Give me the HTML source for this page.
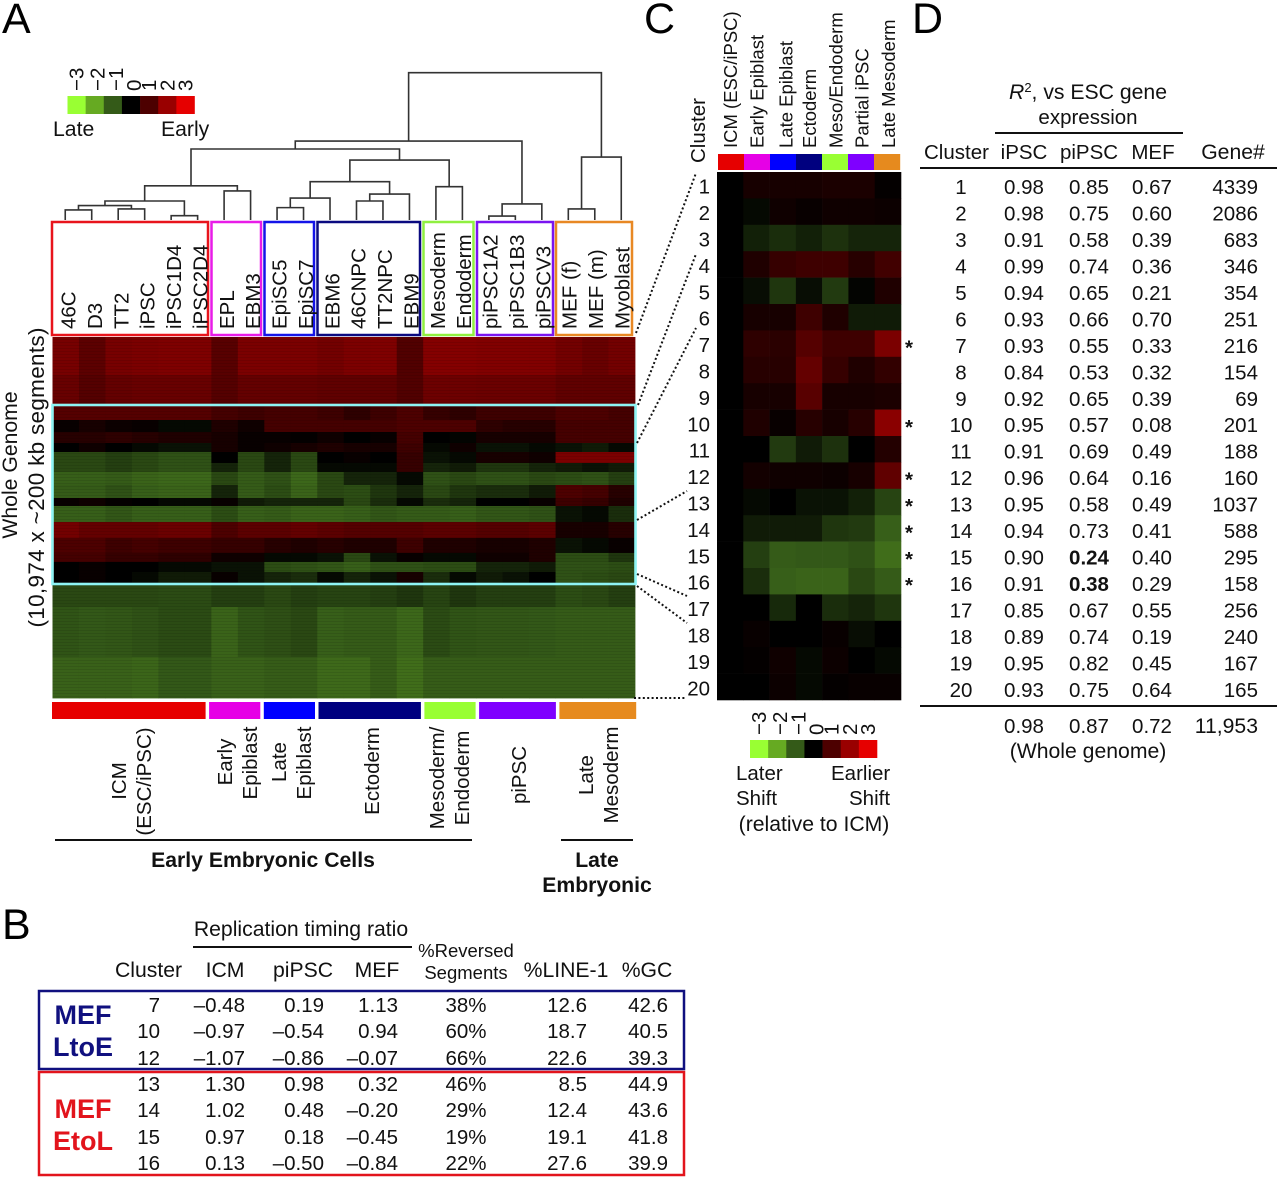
<!DOCTYPE html>
<html lang="en">
<head>
<meta charset="utf-8">
<title>Replication timing figure</title>
<style>
html,body{margin:0;padding:0;background:#fff;}
svg{display:block;}
text{font-family:"Liberation Sans",sans-serif;font-size:20.5px;fill:#111;}
.p{font-size:43px;fill:#000;}
.m{text-anchor:middle;}
.e{text-anchor:end;}
.b{font-weight:bold;}
.t{font-size:20.5px;}
.h{font-size:21.2px;}
.s{font-size:18.5px;}
.dot{stroke:#111;stroke-width:2;stroke-dasharray:2 2.4;fill:none;}
.rule{stroke:#111;stroke-width:2;}
.box{fill:none;stroke-width:2.5;}
</style>
</head>
<body>
<svg id="figure" xmlns="http://www.w3.org/2000/svg" width="1280" height="1180" viewBox="0 0 1280 1180">
<rect x="0" y="0" width="1280" height="1180" fill="#fff"/>
<defs>
<pattern id="stripes" width="4" height="3" patternUnits="userSpaceOnUse"><rect width="4" height="1" fill="#000" fill-opacity="0.09"/></pattern>
</defs>

<text class="p" x="2" y="33">A</text>
<text class="p" x="2" y="939">B</text>
<text class="p" x="644" y="33">C</text>
<text class="p" x="912" y="33">D</text>

<g id="legendA"></g>
<text class="h" x="53" y="136">Late</text>
<text class="h" x="161" y="136">Early</text>

<g id="dendrogram"></g>

<g>
<rect class="box" x="52" y="222" width="156" height="113" stroke="#e8141c"/>
<rect class="box" x="211.5" y="222" width="49.5" height="113" stroke="#e81ce8"/>
<rect class="box" x="264.5" y="222" width="49.5" height="113" stroke="#1414e8"/>
<rect class="box" x="317.5" y="222" width="102.5" height="113" stroke="#0a0a80"/>
<rect class="box" x="423.5" y="222" width="50" height="113" stroke="#90f040"/>
<rect class="box" x="477" y="222" width="76" height="113" stroke="#7a14f0"/>
<rect class="box" x="556" y="222" width="76" height="113" stroke="#e88824"/>
</g>
<g id="sampleLabelsG"></g>

<g id="heatA"></g>
<rect x="52.5" y="337" width="582.5" height="361" fill="url(#stripes)"/>
<rect x="52.5" y="405" width="583" height="179" fill="none" stroke="#8ef4f4" stroke-width="2.6"/>

<text class="m h" transform="translate(17,465) rotate(-90)">Whole Genome</text>
<text class="m" style="font-size:22.5px" textLength="300" lengthAdjust="spacing" transform="translate(44,477.5) rotate(-90)">(10,974 x ~200 kb segments)</text>

<g id="barA"></g>

<g>
<text class="m" transform="translate(126,781) rotate(-90)">ICM</text>
<text class="m" transform="translate(151,781.5) rotate(-90)">(ESC/iPSC)</text>
<text class="m" transform="translate(232,762) rotate(-90)">Early</text>
<text class="m" transform="translate(257,763) rotate(-90)">Epiblast</text>
<text class="m" transform="translate(286,762) rotate(-90)">Late</text>
<text class="m" transform="translate(311,763) rotate(-90)">Epiblast</text>
<text class="m" transform="translate(379,771) rotate(-90)">Ectoderm</text>
<text class="m" transform="translate(444,778) rotate(-90)">Mesoderm/</text>
<text class="m" transform="translate(469,778) rotate(-90)">Endoderm</text>
<text class="m" transform="translate(526,775) rotate(-90)">piPSC</text>
<text class="m" transform="translate(593,775) rotate(-90)">Late</text>
<text class="m" transform="translate(618,775) rotate(-90)">Mesoderm</text>
</g>
<line class="rule" x1="55" y1="840" x2="472" y2="840" stroke-width="3"/>
<line class="rule" x1="561" y1="840" x2="633" y2="840" stroke-width="3"/>
<text class="m b h" x="263" y="867">Early Embryonic Cells</text>
<text class="m b h" x="597" y="867">Late</text>
<text class="m b h" x="597" y="892">Embryonic</text>

<g>
<line class="dot" x1="636" y1="333" x2="696" y2="173"/>
<line class="dot" x1="638" y1="405" x2="696" y2="254"/>
<line class="dot" x1="637" y1="443" x2="696" y2="328"/>
<line class="dot" x1="637" y1="520" x2="687" y2="491"/>
<line class="dot" x1="637" y1="574" x2="687" y2="596"/>
<line class="dot" x1="637" y1="586" x2="687" y2="623"/>
<line class="dot" x1="634" y1="698" x2="685" y2="698"/>
</g>

<text transform="translate(705,163) rotate(-90)">Cluster</text>
<g id="headC"></g>
<g id="barC"></g>
<g id="heatC"></g>
<g id="rowsC"></g>
<g id="legendC"></g>
<text x="736" y="780">Later</text>
<text x="831" y="780">Earlier</text>
<text x="736" y="805">Shift</text>
<text x="849" y="805">Shift</text>
<text class="m h" x="814" y="831">(relative to ICM)</text>

<!-- Panel D table -->
<g>
<text class="m h" x="1088" y="99"><tspan font-style="italic">R</tspan><tspan font-size="13" dy="-7">2</tspan><tspan dy="7">, vs ESC gene</tspan></text>
<text class="m" x="1088" y="124">expression</text>
<line class="rule" x1="995" y1="133" x2="1183" y2="133"/>
<text x="924" y="159">Cluster</text>
<text class="m" x="1024" y="159">iPSC</text>
<text class="m" x="1089" y="159">piPSC</text>
<text class="m" x="1153" y="159">MEF</text>
<text class="m h" x="1233" y="159">Gene#</text>
<line class="rule" x1="920" y1="168" x2="1277" y2="168"/>
<g><text class="m" x="961" y="194">1</text><text class="m" x="1024" y="194">0.98</text><text class="m" x="1089" y="194">0.85</text><text class="m" x="1152" y="194">0.67</text><text class="e" x="1258" y="194">4339</text></g>
<g><text class="m" x="961" y="220.5">2</text><text class="m" x="1024" y="220.5">0.98</text><text class="m" x="1089" y="220.5">0.75</text><text class="m" x="1152" y="220.5">0.60</text><text class="e" x="1258" y="220.5">2086</text></g>
<g><text class="m" x="961" y="247">3</text><text class="m" x="1024" y="247">0.91</text><text class="m" x="1089" y="247">0.58</text><text class="m" x="1152" y="247">0.39</text><text class="e" x="1258" y="247">683</text></g>
<g><text class="m" x="961" y="273.4">4</text><text class="m" x="1024" y="273.4">0.99</text><text class="m" x="1089" y="273.4">0.74</text><text class="m" x="1152" y="273.4">0.36</text><text class="e" x="1258" y="273.4">346</text></g>
<g><text class="m" x="961" y="299.9">5</text><text class="m" x="1024" y="299.9">0.94</text><text class="m" x="1089" y="299.9">0.65</text><text class="m" x="1152" y="299.9">0.21</text><text class="e" x="1258" y="299.9">354</text></g>
<g><text class="m" x="961" y="326.4">6</text><text class="m" x="1024" y="326.4">0.93</text><text class="m" x="1089" y="326.4">0.66</text><text class="m" x="1152" y="326.4">0.70</text><text class="e" x="1258" y="326.4">251</text></g>
<g><text class="m" x="961" y="352.8">7</text><text class="m" x="1024" y="352.8">0.93</text><text class="m" x="1089" y="352.8">0.55</text><text class="m" x="1152" y="352.8">0.33</text><text class="e" x="1258" y="352.8">216</text></g>
<g><text class="m" x="961" y="379.3">8</text><text class="m" x="1024" y="379.3">0.84</text><text class="m" x="1089" y="379.3">0.53</text><text class="m" x="1152" y="379.3">0.32</text><text class="e" x="1258" y="379.3">154</text></g>
<g><text class="m" x="961" y="405.8">9</text><text class="m" x="1024" y="405.8">0.92</text><text class="m" x="1089" y="405.8">0.65</text><text class="m" x="1152" y="405.8">0.39</text><text class="e" x="1258" y="405.8">69</text></g>
<g><text class="m" x="961" y="432.2">10</text><text class="m" x="1024" y="432.2">0.95</text><text class="m" x="1089" y="432.2">0.57</text><text class="m" x="1152" y="432.2">0.08</text><text class="e" x="1258" y="432.2">201</text></g>
<g><text class="m" x="961" y="458.7">11</text><text class="m" x="1024" y="458.7">0.91</text><text class="m" x="1089" y="458.7">0.69</text><text class="m" x="1152" y="458.7">0.49</text><text class="e" x="1258" y="458.7">188</text></g>
<g><text class="m" x="961" y="485.2">12</text><text class="m" x="1024" y="485.2">0.96</text><text class="m" x="1089" y="485.2">0.64</text><text class="m" x="1152" y="485.2">0.16</text><text class="e" x="1258" y="485.2">160</text></g>
<g><text class="m" x="961" y="511.6">13</text><text class="m" x="1024" y="511.6">0.95</text><text class="m" x="1089" y="511.6">0.58</text><text class="m" x="1152" y="511.6">0.49</text><text class="e" x="1258" y="511.6">1037</text></g>
<g><text class="m" x="961" y="538.1">14</text><text class="m" x="1024" y="538.1">0.94</text><text class="m" x="1089" y="538.1">0.73</text><text class="m" x="1152" y="538.1">0.41</text><text class="e" x="1258" y="538.1">588</text></g>
<g><text class="m" x="961" y="564.6">15</text><text class="m" x="1024" y="564.6">0.90</text><text class="m b" x="1089" y="564.6">0.24</text><text class="m" x="1152" y="564.6">0.40</text><text class="e" x="1258" y="564.6">295</text></g>
<g><text class="m" x="961" y="591">16</text><text class="m" x="1024" y="591">0.91</text><text class="m b" x="1089" y="591">0.38</text><text class="m" x="1152" y="591">0.29</text><text class="e" x="1258" y="591">158</text></g>
<g><text class="m" x="961" y="617.5">17</text><text class="m" x="1024" y="617.5">0.85</text><text class="m" x="1089" y="617.5">0.67</text><text class="m" x="1152" y="617.5">0.55</text><text class="e" x="1258" y="617.5">256</text></g>
<g><text class="m" x="961" y="644">18</text><text class="m" x="1024" y="644">0.89</text><text class="m" x="1089" y="644">0.74</text><text class="m" x="1152" y="644">0.19</text><text class="e" x="1258" y="644">240</text></g>
<g><text class="m" x="961" y="670.4">19</text><text class="m" x="1024" y="670.4">0.95</text><text class="m" x="1089" y="670.4">0.82</text><text class="m" x="1152" y="670.4">0.45</text><text class="e" x="1258" y="670.4">167</text></g>
<g><text class="m" x="961" y="696.9">20</text><text class="m" x="1024" y="696.9">0.93</text><text class="m" x="1089" y="696.9">0.75</text><text class="m" x="1152" y="696.9">0.64</text><text class="e" x="1258" y="696.9">165</text></g>
<line class="rule" x1="920" y1="706" x2="1277" y2="706"/>
<text class="m" x="1024" y="733">0.98</text>
<text class="m" x="1089" y="733">0.87</text>
<text class="m" x="1152" y="733">0.72</text>
<text class="e h" x="1258" y="733">11,953</text>
<text class="m h" x="1088" y="758">(Whole genome)</text>
</g>

<!-- Panel B table -->
<g>
<text class="m h" x="301" y="936">Replication timing ratio</text>
<line class="rule" x1="193" y1="947" x2="412" y2="947"/>
<text class="h" x="115" y="977">Cluster</text>
<text class="m h" x="225" y="977">ICM</text>
<text class="m h" x="303" y="977">piPSC</text>
<text class="m h" x="377" y="977">MEF</text>
<text class="m s" x="466" y="957">%Reversed</text>
<text class="m s" x="466" y="979">Segments</text>
<text class="m h" x="566" y="977">%LINE-1</text>
<text class="m h" x="647" y="977">%GC</text>
<rect class="box" x="39" y="991" width="645" height="78" stroke="#10107f"/>
<rect class="box" x="39" y="1072" width="645" height="103" stroke="#e2141c"/>
<g font-weight="bold">
<text class="m b" x="83" y="1024" style="font-size:27px;fill:#10107f">MEF</text>
<text class="m b" x="83" y="1056" style="font-size:27px;fill:#10107f">LtoE</text>
</g>
<g>
<text class="m b" x="83" y="1118" style="font-size:27px;fill:#e2141c">MEF</text>
<text class="m b" x="83" y="1150" style="font-size:27px;fill:#e2141c">EtoL</text>
</g>
<g><text class="e t" x="160" y="1012">7</text><text class="e t" x="245" y="1012">–0.48</text><text class="e t" x="324" y="1012">0.19</text><text class="e t" x="398" y="1012">1.13</text><text class="m t" x="466" y="1012">38%</text><text class="e t" x="587" y="1012">12.6</text><text class="e t" x="668" y="1012">42.6</text></g>
<g><text class="e t" x="160" y="1038">10</text><text class="e t" x="245" y="1038">–0.97</text><text class="e t" x="324" y="1038">–0.54</text><text class="e t" x="398" y="1038">0.94</text><text class="m t" x="466" y="1038">60%</text><text class="e t" x="587" y="1038">18.7</text><text class="e t" x="668" y="1038">40.5</text></g>
<g><text class="e t" x="160" y="1065">12</text><text class="e t" x="245" y="1065">–1.07</text><text class="e t" x="324" y="1065">–0.86</text><text class="e t" x="398" y="1065">–0.07</text><text class="m t" x="466" y="1065">66%</text><text class="e t" x="587" y="1065">22.6</text><text class="e t" x="668" y="1065">39.3</text></g>
<g><text class="e t" x="160" y="1091">13</text><text class="e t" x="245" y="1091">1.30</text><text class="e t" x="324" y="1091">0.98</text><text class="e t" x="398" y="1091">0.32</text><text class="m t" x="466" y="1091">46%</text><text class="e t" x="587" y="1091">8.5</text><text class="e t" x="668" y="1091">44.9</text></g>
<g><text class="e t" x="160" y="1117">14</text><text class="e t" x="245" y="1117">1.02</text><text class="e t" x="324" y="1117">0.48</text><text class="e t" x="398" y="1117">–0.20</text><text class="m t" x="466" y="1117">29%</text><text class="e t" x="587" y="1117">12.4</text><text class="e t" x="668" y="1117">43.6</text></g>
<g><text class="e t" x="160" y="1144">15</text><text class="e t" x="245" y="1144">0.97</text><text class="e t" x="324" y="1144">0.18</text><text class="e t" x="398" y="1144">–0.45</text><text class="m t" x="466" y="1144">19%</text><text class="e t" x="587" y="1144">19.1</text><text class="e t" x="668" y="1144">41.8</text></g>
<g><text class="e t" x="160" y="1170">16</text><text class="e t" x="245" y="1170">0.13</text><text class="e t" x="324" y="1170">–0.50</text><text class="e t" x="398" y="1170">–0.84</text><text class="m t" x="466" y="1170">22%</text><text class="e t" x="587" y="1170">27.6</text><text class="e t" x="668" y="1170">39.9</text></g>
</g>
</svg>

<script>
var sampleLabels = ["46C","D3","TT2","iPSC","iPSC1D4","iPSC2D4","EPL","EBM3","EpiSC5","EpiSC7","EBM6","46CNPC","TT2NPC","EBM9","Mesoderm","Endoderm","piPSC1A2","piPSC1B3","piPSCV3","MEF (f)","MEF (m)","Myoblast"];
var groupSizes = [6,2,2,4,2,3,3];
var groupNames = ["icm","early-epiblast","late-epiblast","ectoderm","meso-endoderm","pipsc","late-mesoderm"];
var conditionLabels = ["ICM (ESC/iPSC)","Early Epiblast","Late Epiblast","Ectoderm","Meso/Endoderm","Partial iPSC","Late Mesoderm"];
var legendValues = [-3,-2,-1,0,1,2,3];
var clusterLabels = ["1","2","3","4","5","6","7","8","9","10","11","12","13","14","15","16","17","18","19","20"];
var starredClusters = [7,10,12,13,14,15,16];
var bandSegments = [1155,912,456,365,334,274,334,274,395,395,243,486,486,456,274,304,365,699,1520,1247];
var dendroMerges = [
[0,1,.068],[2,3,.075],[4,5,.029],[22,23,.098],[25,24,.129],[6,7,.197],[26,27,.232],
[8,9,.084],[29,10,.149],[11,12,.129],[31,13,.176],[30,32,.26],[14,15,.226],[33,34,.407],
[28,35,.482],[16,17,.027],[37,18,.109],[36,38,.536],[19,20,.075],[40,21,.427],[39,41,1.0]];
var heatBands = [
[1.55,1.2,1.55,1.6,1.65,1.65,1.15,1.6,1.6,1.6,1.5,1.62,1.66,1.05,1.72,1.72,1.68,1.68,1.68,1.5,1.35,1.5],
[1.35,1.1,1.3,1.35,1.35,1.35,1.1,1.3,1.3,1.3,1.25,1.25,1.25,1.05,1.42,1.42,1.4,1.4,1.4,1.25,1.25,1.25],
[1.1,1.1,1.1,1.1,1.1,1.1,.9,.8,.9,.9,.8,.6,.8,1.0,.7,.6,.8,.8,.8,1.0,1.0,.9],
[.1,.3,.15,.1,-.1,-.1,.4,.2,.9,.9,.9,.9,.9,1.0,1.0,1.0,.6,.5,.5,.9,.9,.9],
[.5,.5,.6,.5,.4,.4,.3,.1,.1,.05,.2,0,.1,.9,0,-.05,.3,.3,.3,.9,.9,.9],
[0,.2,0,-.1,-.2,-.2,.3,.1,.2,.3,.4,.3,.3,.8,-.1,.2,-.2,-.2,-.1,-.2,-.3,-.1],
[-.8,-.8,-.7,-.8,-.9,-.9,0,-.8,-.4,-.8,0,.1,0,.7,-.2,-.1,.3,.3,.2,1.6,1.6,1.6],
[-.8,-.8,-.7,-.8,-.9,-.9,-.4,-.8,-.4,-.8,-.1,-.1,-.1,.7,-.4,-.3,-.6,-.6,-.4,-.3,-.2,-.3],
[-1.06,-1.06,-1.01,-1.11,-1.16,-1.16,-.8,-1.01,-.9,-1.16,-.8,-.4,-.4,-.1,-.9,-.8,-.9,-.9,-.8,-.85,-.9,-.7],
[-1.01,-1.01,-.9,-1.06,-1.11,-1.11,-.4,-1.01,-.85,-1.11,-.8,-.85,-.6,-.4,-.8,-.6,-.5,-.5,-.3,1.0,.9,.5],
[.1,.2,.05,0,-.1,-.1,.1,-.3,-.4,-.4,-.4,-.8,-.5,-.1,-.5,-.4,0,0,.1,.8,.7,.4],
[-1.06,-1.06,-.96,-1.06,-1.06,-1.06,-.85,-1.06,-1.01,-1.11,-1.11,-1.06,-.96,-1.01,-1.01,-1.06,-.96,-.96,-.9,-.2,-.1,-.5],
[1.5,1.3,1.3,1.3,1.4,1.4,1,1.2,1.2,1.3,1.2,1.1,1.1,1.1,1.2,1.2,1.1,1.1,1.2,.3,.3,.5],
[1,1,.8,.9,.8,.8,.7,.7,.5,.4,.5,.4,.4,.8,.4,.4,.3,.3,.4,-.2,-.1,.1],
[.9,.9,.7,.7,.6,.6,.2,.2,-.1,-.1,-.2,-.8,-.2,.1,-.1,-.1,.2,.2,.4,-.85,-.85,-.6],
[0,.1,0,0,-.1,-.1,-.2,-.2,-.85,-.9,-.96,-1.06,-.9,-.9,-.85,-.85,-.4,-.4,-.3,-.9,-.9,-.85],
[0,.1,0,-.1,-.3,-.3,.1,-.2,-.4,-.5,-.1,-.4,-.2,.3,-.5,-.1,-.3,-.2,0,-.9,-.85,-.8],
[-.8,-.8,-.8,-.8,-.83,-.83,-.7,-.7,-.8,-.7,-.75,-.75,-.7,-.6,-.75,-.6,-.7,-.7,-.7,-.85,-.8,-.7],
[-.93,-.98,-.96,-.9,-.83,-.83,-1.11,-.93,-.88,-.8,-1.06,-1.01,-1.01,-1.16,-.83,-.93,-.96,-.96,-.98,-1.01,-1.01,-1.01],
[-1.09,-1.09,-1.09,-1.14,-.98,-.98,-1.09,-1.09,-1.03,-1.03,-1.19,-1.19,-1.03,-1.24,-1.03,-1.03,-1.03,-1.03,-1.03,-1.03,-1.03,-1.03]];
var clusterHeat = [
[0,.3,.3,.3,.35,.35,.05],
[0,-.1,.2,.1,.2,.2,.15],
[0,-.35,-.5,-.35,-.55,-.4,-.4],
[0,.4,.7,.8,.8,.5,.85],
[0,-.15,-.6,-.15,-.65,-.05,.4],
[0,.3,.3,.8,.4,-.3,-.3],
[0,.6,.55,1.1,.8,.8,1.6],
[0,.5,.5,1.3,.7,.4,.65],
[0,.3,.3,1.15,.3,.3,.35],
[0,.4,.1,.5,.3,.5,1.8],
[0,0,-.65,-.3,-.55,0,.45],
[0,.25,.2,.2,.15,.3,1.25],
[0,-.1,0,-.2,-.2,-.35,-.75],
[0,-.3,-.3,-.3,-.6,-.65,-1.06],
[0,-.7,-1.01,-.98,-.98,-.9,-1.24],
[0,-.5,-1.06,-1.11,-1.11,-.8,-1.01],
[0,0,-.45,0,-.5,-.4,-.6],
[0,.1,0,0,.1,-.15,0],
[0,.05,.2,-.1,.15,0,-.1],
[0,0,.15,-.1,.05,.1,.1]];

var NS = "http://www.w3.org/2000/svg";
var groupColors = ["#e60000","#e600e6","#0000ff","#00007f","#99ff33","#7f00ff","#e68a1e"];
var rampStops = [[153,255,51],[102,170,34],[52,90,24],[0,0,0],[77,0,0],[153,0,0],[230,0,0]];

function heatColor(v){
  var t = Math.max(0, Math.min(6, v + 3));
  var i = Math.min(5, Math.floor(t));
  var f = t - i;
  var a = rampStops[i], b = rampStops[i + 1];
  return "rgb(" + [0,1,2].map(function(k){ return Math.round(a[k] + (b[k] - a[k]) * f); }).join(",") + ")";
}
function make(tag, parent, attrs){
  var el = document.createElementNS(NS, tag);
  Object.keys(attrs).forEach(function(k){ el.setAttribute(k, attrs[k]); });
  parent.appendChild(el);
  return el;
}
function rotLabel(parent, x, y, str, cls){
  var el = make("text", parent, {transform: "translate(" + x + "," + y + ") rotate(-90)"});
  if (cls) el.setAttribute("class", cls);
  el.textContent = str;
  return el;
}

/* heatmap A axes */
var totalSegments = bandSegments.reduce(function(a, b){ return a + b; }, 0);
function xA(i){ return 52.5 + i * 582.5 / sampleLabels.length; }
function yA(seg){ return 337 + seg * 361 / totalSegments; }
var heatAGroup = document.getElementById("heatA");
var segSoFar = 0;
heatBands.forEach(function(row, r){
  var y0 = yA(segSoFar), y1 = yA(segSoFar + bandSegments[r]);
  row.forEach(function(v, c){
    var cell = make("rect", heatAGroup, {x: xA(c), y: y0, width: xA(c + 1) - xA(c) + .4, height: y1 - y0 + .4, fill: heatColor(v)});
    
    
  });
  segSoFar += bandSegments[r];
});

/* sample labels */
function xLabel(i){ return 75.5 + i * 26.38; }
var sampleG = document.getElementById("sampleLabelsG");
sampleLabels.forEach(function(s, i){
  var t = rotLabel(sampleG, xLabel(i), 329, s);
  
  
});

/* dendrogram */
function dendroY(h){ return 220 - h * 147.3; }
var dendroG = document.getElementById("dendrogram");
var nodeX = sampleLabels.map(function(s, i){ return (xA(i) + xA(i + 1)) / 2 - .5; });
var nodeH = sampleLabels.map(function(){ return 0; });
dendroMerges.forEach(function(m){
  var a = m[0], b = m[1], h = m[2];
  var d = "M" + nodeX[a] + " " + dendroY(nodeH[a]) + "V" + dendroY(h) + "H" + nodeX[b] + "V" + dendroY(nodeH[b]);
  var p = make("path", dendroG, {d: d, fill: "none", stroke: "#333", "stroke-width": 1.6});
  
  
  nodeX.push((nodeX[a] + nodeX[b]) / 2);
  nodeH.push(h);
});

/* colour bar A */
var barG = document.getElementById("barA");
var unitsSoFar = 0;
groupSizes.forEach(function(n, g){
  var x0 = 52 + unitsSoFar * 25.6 + g * 3.5;
  var seg = make("rect", barG, {x: x0, y: 702, width: n * 25.6, height: 17, fill: groupColors[g]});
  
  
  unitsSoFar += n;
});

/* legends */
function drawLegend(parentId, x0, y0, w, h, labelBase){
  var g = document.getElementById(parentId);
  legendValues.forEach(function(v, i){
    var cw = w / legendValues.length;
    var swatch = make("rect", g, {x: x0 + i * cw, y: y0, width: cw + .3, height: h, fill: heatColor(v)});
    
    
    var nudge = (v >= -2 && v <= 0) ? 3 : 0;
    var t = rotLabel(g, x0 + i * cw + cw / 2 + 7 + nudge, labelBase, (v < 0 ? "\u2212" + (-v) : String(v)));
    
    
  });
}
drawLegend("legendA", 67.5, 96, 127, 18, 91);
drawLegend("legendC", 750, 740, 127, 18, 735);

/* heatmap C axes */
function xC(i){ return 717 + i * 184 / conditionLabels.length; }
function yC(r){ return 172 + r * 528 / clusterLabels.length; }
var heatCG = document.getElementById("heatC");
clusterHeat.forEach(function(row, r){
  row.forEach(function(v, c){
    var cell = make("rect", heatCG, {x: xC(c), y: yC(r), width: xC(c + 1) - xC(c) + .3, height: yC(r + 1) - yC(r) + .3, fill: heatColor(v)});
    
    
  });
});
var headG = document.getElementById("headC");
var barCG = document.getElementById("barC");
conditionLabels.forEach(function(s, i){
  var shift = i === 2 ? 3 : 0;
  var t = rotLabel(headG, (xC(i) + xC(i + 1)) / 2 + 7 + shift, 148, s, "s");
  
  
  var seg = make("rect", barCG, {x: 718 + i * 26, y: 154, width: 26.2, height: 16, fill: groupColors[i]});
  
  
});
var rowsG = document.getElementById("rowsC");
clusterLabels.forEach(function(s, r){
  var t = make("text", rowsG, {x: 710, y: (yC(r) + yC(r + 1)) / 2 + 8.5, class: "e"});
  t.textContent = s;
  
  
});
starredClusters.forEach(function(k){
  var t = make("text", rowsG, {x: 909, y: (yC(k - 1) + yC(k)) / 2 + 11, class: "m b"});
  t.textContent = "*";
  
  
});
</script>
</body>
</html>
